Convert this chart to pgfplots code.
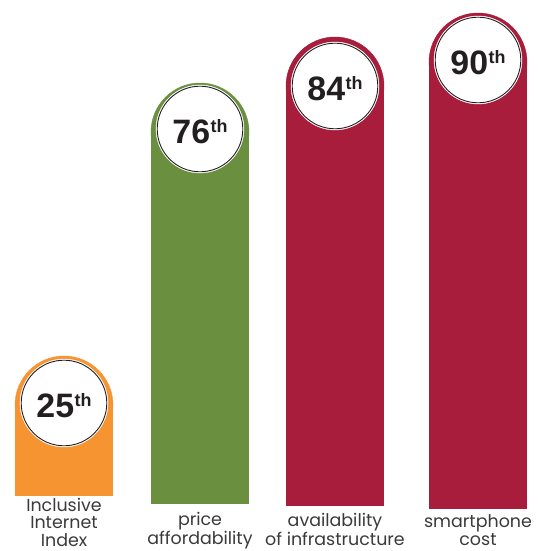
\documentclass[border=0pt]{standalone}
\usepackage{pgfplots}
\pgfplotsset{compat=1.18}
\usepackage{fontspec}
\setmainfont{Poppins}
\newfontfamily\numfont{Liberation Sans}
\definecolor{barO}{RGB}{247,148,50}
\definecolor{barG}{RGB}{106,143,63}
\definecolor{barR}{RGB}{168,28,60}
\definecolor{numC}{RGB}{35,31,32}
\definecolor{labC}{RGB}{58,58,58}
\newcommand{\rank}[1]{{\numfont\bfseries\fontsize{34}{34}\selectfont #1\kern0.5bp\smash{\raisebox{11.2bp}{\fontsize{18}{18}\selectfont th}}}}
\begin{document}
\begin{tikzpicture}
\begin{axis}[hide axis, scale only axis, width=538bp, height=551bp,
  xmin=0, xmax=538, ymin=0, ymax=551, clip=false]
% bar bodies (x from, x to; bottom; centre of rounded top)
\addplot[fill=barO, draw=none] coordinates {(15,55) (113,55) (113,146) (15,146)};
\addplot[fill=barG, draw=none] coordinates {(151,47) (249,47) (249,419) (151,419)};
\addplot[fill=barR, draw=none] coordinates {(286,45) (384,45) (384,465) (286,465)};
\addplot[fill=barR, draw=none] coordinates {(429,42) (527,42) (527,489) (429,489)};
% rounded tops
\addplot[only marks, color=barO, mark=*, mark size=49bp, mark options={fill=barO, draw=none}] coordinates {(64,146)};
\addplot[only marks, color=barG, mark=*, mark size=49bp, mark options={fill=barG, draw=none}] coordinates {(200,419)};
\addplot[only marks, color=barR, mark=*, mark size=49bp, mark options={fill=barR, draw=none}] coordinates {(335,465) (478,489)};
% white discs
\addplot[only marks, color=white, mark=*, mark size=44bp, mark options={fill=white, draw=none}]
  coordinates {(64,148) (200,422) (335,465) (478,491)};
% black rings with rank labels
\addplot[only marks, color=numC, mark=o, mark size=42.8bp, mark options={draw=numC, fill=none, line width=0.9bp},
  point meta=explicit symbolic,
  nodes near coords={\rank{\pgfplotspointmeta}},
  nodes near coords align=center,
  every node near coord/.append style={text=numC, inner sep=0pt, yshift=-3bp}]
  coordinates {(64,148) [25] (200,422) [76] (335,465) [84] (478,491) [90]};
\node[anchor=base, align=center, inner sep=0pt, text=labC, font=\fontsize{17.5}{17.5}\selectfont] at (axis cs:64,5) {Inclusive\\Internet\\Index};
\node[anchor=base, align=center, inner sep=0pt, text=labC, font=\fontsize{17.5}{17.5}\selectfont] at (axis cs:200,7) {price\\affordability};
\node[anchor=base, align=center, inner sep=0pt, text=labC, font=\fontsize{17.5}{17.5}\selectfont] at (axis cs:335,6) {availability\\of infrastructure};
\node[anchor=base, align=center, inner sep=0pt, text=labC, font=\fontsize{17.5}{17.5}\selectfont] at (axis cs:478,6) {smartphone\\cost};
\end{axis}
\pgfresetboundingbox
\path (0,0) rectangle (538bp,551bp);
\end{tikzpicture}
\end{document}
